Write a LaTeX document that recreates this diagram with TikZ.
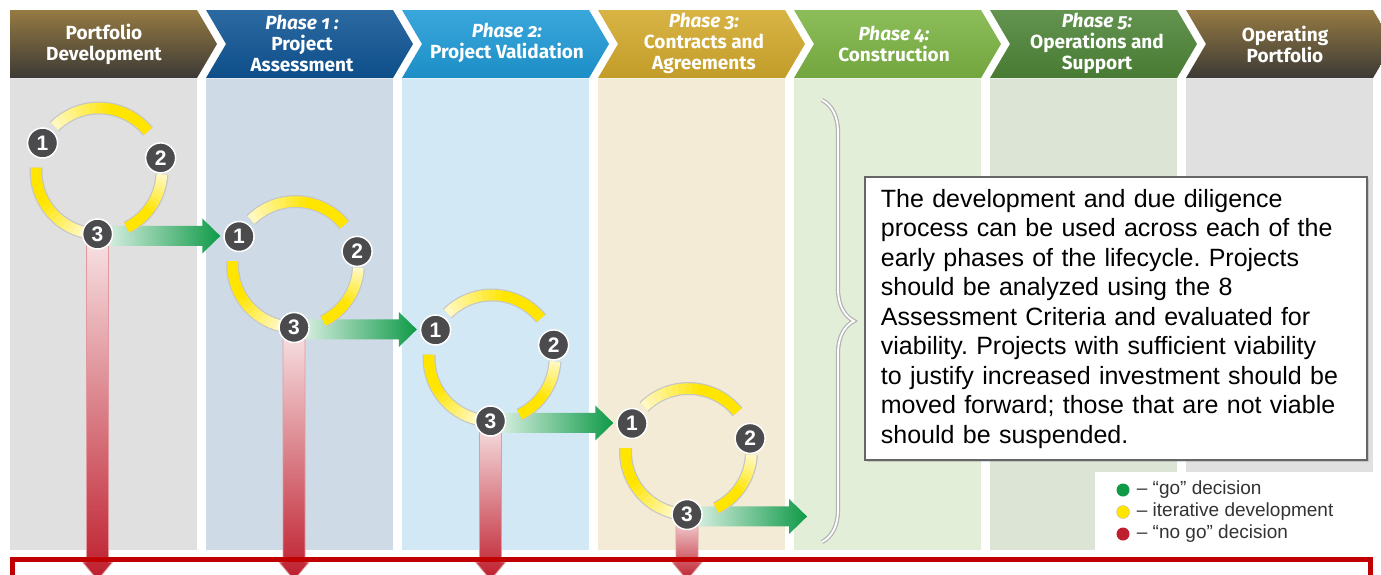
\documentclass[tikz,border=0pt]{standalone}
\usepackage{fontspec}
\newfontfamily\headfont[Numbers=OldStyle]{Fira Sans}
\newfontfamily\notefont{Liberation Sans}
\usetikzlibrary{calc,positioning,shadows,decorations.pathreplacing}

\definecolor{bgport}{HTML}{E0E0E0}
\definecolor{bgph1}{HTML}{CEDBE7}
\definecolor{bgph2}{HTML}{D2E9F5}
\definecolor{bgph3}{HTML}{F3EBD5}
\definecolor{bgph4}{HTML}{E2EED8}
\definecolor{bgph5}{HTML}{DCE5D5}
\definecolor{hdporttop}{HTML}{957A42}
\definecolor{hdportbot}{HTML}{3C3A36}
\definecolor{hdph1}{HTML}{0F5595}
\definecolor{hdph2}{HTML}{1F9BD7}
\definecolor{hdph3}{HTML}{D3AA2C}
\definecolor{hdph4}{HTML}{7CB443}
\definecolor{hdph5}{HTML}{4E8538}
\definecolor{numgray}{HTML}{4B4B4D}
\definecolor{arcyellow}{HTML}{FFE500}
\definecolor{gogreen}{HTML}{0F9A48}
\definecolor{nored}{HTML}{BE1E2D}
\definecolor{linered}{HTML}{C00000}

\pgfdeclarelayer{back}
\pgfdeclarelayer{mid}
\pgfsetlayers{back,mid,main}

\tikzset{
    num/.style={circle, fill=numgray, draw=white, line width=1.5pt, minimum size=30pt, inner sep=0pt,
        text=white, font=\notefont\bfseries\fontsize{21}{21}\selectfont},
    head/.style={text=white, align=center, font=\headfont\bfseries\fontsize{19}{21}\selectfont},
    arc rim/.style={draw=gray!45, line width=13pt},
    go arrow/.style={left color=gogreen!10!white, middle color=gogreen!60!white, right color=gogreen},
    nogo bar/.style={top color=nored!12!white, middle color=nored, bottom color=nored, draw=nored!45, line width=0.8pt},
    no line/.style={draw=linered, line width=5pt},
    curly/.style={decorate, decoration={brace, amplitude=32pt}, draw=gray!60, double=white,
        double distance=1.8pt, line width=1.2pt},
    note/.style={draw=gray!80!black, line width=1.8pt, fill=white, text width=470pt, inner xsep=16pt,
        inner ysep=12pt, align=left, font=\notefont\fontsize{25}{29.5}\selectfont,
        drop shadow={shadow xshift=2pt, shadow yshift=-2pt, opacity=.3}},
    leg dot/.style={circle, minimum size=13pt, inner sep=0pt},
    leg text/.style={font=\notefont\fontsize{19}{22}\selectfont, text=black!80, inner sep=0pt}
}

\begin{document}
\frenchspacing
\begin{tikzpicture}[x=1pt, y=-1pt, >=latex]
    \useasboundingbox (0,0) rectangle (1381,574);
    \clip (0,0) rectangle (1381,574);

    % columns and chevrons
    \begin{pgfonlayer}{back}
    \foreach \i/\nd/\bg/\hdtop/\hdbot in {0/0/bgport/hdporttop/hdportbot,
            1/20/bgph1/hdph1!88!white/hdph1!92!black, 2/20/bgph2/hdph2!88!white/hdph2!92!black,
            3/20/bgph3/hdph3!88!white/hdph3!92!black, 4/20/bgph4/hdph4!88!white/hdph4!92!black,
            5/20/bgph5/hdph5!88!white/hdph5!92!black, 6/20/bgport/hdporttop/hdportbot} {
        \pgfmathsetmacro\L{10+196*\i}
        \fill[\bg] (\L,79) rectangle ++(187,471);
        \shade[top color=\hdtop, bottom color=\hdbot] (\L,10) -- ++(187,0) -- ++(20,34) -- ++(-20,34)
            -- ++(-187,0) -- ++(\nd,-34) -- cycle;
    }
    \end{pgfonlayer}

    \node[head] (hport) at (104,44) {Portfolio\\Development};
    \node[head] (hph1) at (302,43) {\textit{Phase 1 :}\\Project\\Assessment};
    \node[head] (hph2) at (507,43) {\textit{Phase 2:}\\Project Validation};
    \node[head] (hph3) at (704,43) {\textit{Phase 3:}\\Contracts and\\Agreements};
    \node[head] (hph4) at (894,44) {\textit{Phase 4:}\\Construction};
    \node[head] (hph5) at (1097,43) {\textit{Phase 5:}\\Operations and\\Support};
    \node[head] (hop) at (1285,44) {Operating\\Portfolio};

    % the four cycles
    \foreach \k in {1,...,4} {
        \coordinate (cen\k) at ({99+196.5*(\k-1)}, {171+93.5*(\k-1)});
        \node[num] (s\k1) at ($(cen\k)+(-153.6:63)$) {1};
        \node[num] (s\k2) at ($(cen\k)+(-12:63)$) {2};
        \node[num] (s\k3) at ($(cen\k)+(91.3:63)$) {3};
    }

    \begin{pgfonlayer}{mid}
    % no go bars
    \coordinate (base) at (0,562);
    \foreach \k in {1,...,4} {
        \shadedraw[nogo bar] ($(s\k3.center)+(-11,0)$) -- ($(s\k3 |- base)+(-11,0)$) -- ($(s\k3 |- base)+(-15,0)$)
            -- ($(s\k3 |- base)+(0,18)$) -- ($(s\k3 |- base)+(15,0)$) -- ($(s\k3 |- base)+(11,0)$)
            -- ($(s\k3.center)+(11,0)$) -- cycle;
    }
    % go arrows
    \foreach \k/\nx in {1/2, 2/3, 3/4} {
        \coordinate (tip\k) at ($(s\nx1.west |- s\k3.center)+(-3,2)$);
    }
    \coordinate (tip4) at ($(s43.center)+(120,2)$);
    \foreach \k in {1,...,4} {
        \shade[go arrow] ($(s\k3.center |- tip\k)+(0,-10)$) -- ($(tip\k)+(-18,-10)$) -- ($(tip\k)+(-18,-17.5)$)
            -- (tip\k) -- ($(tip\k)+(-18,17.5)$) -- ($(tip\k)+(-18,10)$) -- ($(s\k3.center |- tip\k)+(0,10)$) -- cycle;
    }
    % iterative arcs
    \foreach \k in {1,...,4} {
        \foreach \a/\b in {-135/-39, 3/64, -257/-177} {
            \draw[arc rim] (cen\k) ++(\a:63) arc[start angle=\a, end angle=\b, radius=63];
            \foreach \j in {0,...,15} {
                \pgfmathsetmacro\sa{\a+(\b-\a)*\j/16}
                \pgfmathsetmacro\ea{\a+(\b-\a)*min(\j+1.2,16)/16}
                \pgfmathsetmacro\shadepct{min(100,25+75*\j/9)}
                \draw[draw=arcyellow!\shadepct!white, line width=10.5pt] (cen\k) ++(\sa:63)
                    arc[start angle=\sa, end angle=\ea, radius=63];
            }
        }
    }
    \end{pgfonlayer}

    \draw[no line] (12,600) -- (12,559.5) -- (1370,559.5) -- (1370,600);

    % note and brace
    \draw[curly] (822,100) -- (822,542);
    \node[note, anchor=north west] (note) at (864,176) {The development and due diligence\\
        process can be used across each of the\\
        early phases of the lifecycle. Projects\\
        should be analyzed using the 8\\
        Assessment Criteria and evaluated for\\
        viability. Projects with sufficient viability\\
        to justify increased investment should be\\
        moved forward; those that are not viable\\
        should be suspended.};

    % legend
    \fill[white] (1095,472) rectangle (1381,553);
    \node[leg dot, fill=gogreen] (lgo) at (1123,490) {};
    \node[leg dot, fill=arcyellow, draw=gray!50] (liter) at (1123,512) {};
    \node[leg dot, fill=nored] (lnogo) at (1123,534) {};
    \node[leg text, right=7pt of lgo] (lgotext) {– “go” decision};
    \node[leg text, right=7pt of liter] (litertext) {– iterative development};
    \node[leg text, right=7pt of lnogo] (lnogotext) {– “no go” decision};
\end{tikzpicture}
\end{document}
